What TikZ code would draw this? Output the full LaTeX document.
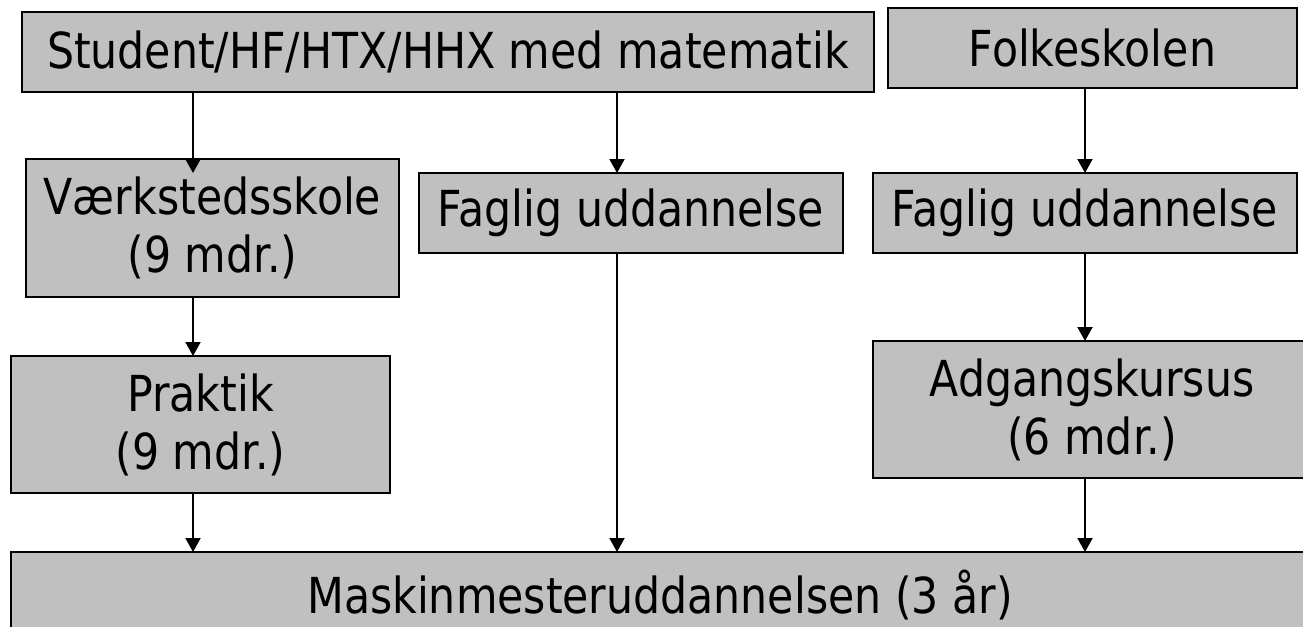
\documentclass[tikz,border=0pt]{standalone}
\usepackage{fontspec}
\setmainfont{DejaVu Sans}[FakeStretch=0.86]
\usepackage{tikz}
\usetikzlibrary{arrows.meta}
\definecolor{boxgray}{RGB}{192,192,192}
\tikzstyle{box}=[rectangle, draw=black, fill=boxgray, line width=1pt, inner sep=0pt, outer sep=0pt, align=center, font=\fontsize{24.8pt}{29pt}\selectfont]
\tikzstyle{arr}=[-{Triangle[width=7.5pt,length=7pt]}, line width=1pt]

\begin{document}
\begin{tikzpicture}[x=0.5pt, y=-0.5pt]
                    \useasboundingbox (0,0) rectangle (1303,627);
                    \clip (0,0) rectangle (1303,627);
                    \node[box, minimum width=426pt, minimum height=40pt] (student) at (448, 52) {Student/HF/HTX/HHX med matematik};
                    \node[box, minimum width=204.5pt, minimum height=40pt] (folke) at (1092.5, 48) {Folkeskolen};
                    \node[box, minimum width=186.5pt, minimum height=69pt] (vaerk) at (212.5, 228) {Værkstedsskole\\(9 mdr.)};
                    \node[box, minimum width=212pt, minimum height=40pt] (fagA) at (631, 213) {Faglig uddannelse};
                    \node[box, minimum width=212pt, minimum height=40pt] (fagB) at (1085, 213) {Faglig uddannelse};
                    \node[box, minimum width=189.5pt, minimum height=68.5pt] (praktik) at (200.5, 424.5) {Praktik\\(9 mdr.)};
                    \node[box, minimum width=219pt, minimum height=68.5pt] (adgang) at (1092, 409.5) {Adgangskursus\\(6 mdr.)};
                    \node[box, minimum width=649pt, minimum height=43pt] (maskin) at (660, 595) {Maskinmesteruddannelsen (3 år)};
                    \coordinate (c1) at (193, 0);
                    \coordinate (c2) at (617, 0);
                    \coordinate (c3) at (1085, 0);
                    \draw[arr, shorten >=-7pt] (student.south -| c1) -- (vaerk.north -| c1);
                    \draw[arr] (student.south -| c2) -- (fagA.north -| c2);
                    \draw[arr] (folke.south -| c3) -- (fagB.north -| c3);
                    \draw[arr] (vaerk.south -| c1) -- (praktik.north -| c1);
                    \draw[arr] (fagB.south -| c3) -- (adgang.north -| c3);
                    \draw[arr] (praktik.south -| c1) -- (maskin.north -| c1);
                    \draw[arr] (fagA.south -| c2) -- (maskin.north -| c2);
                    \draw[arr] (adgang.south -| c3) -- (maskin.north -| c3);
                \end{tikzpicture}
\end{document}
